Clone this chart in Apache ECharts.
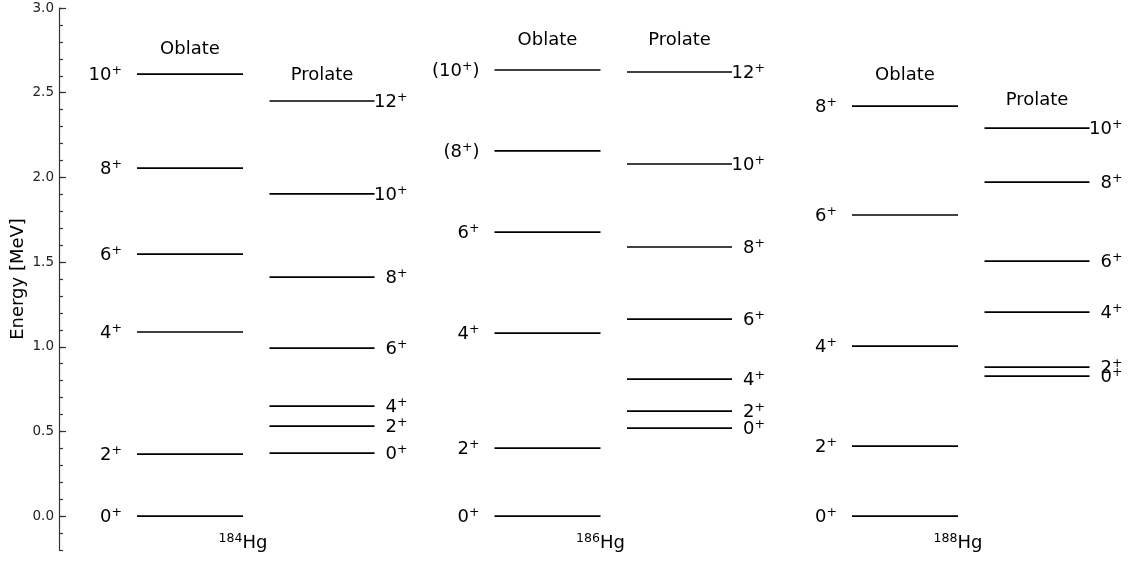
<!DOCTYPE html>
<html><head><meta charset="utf-8">
<script src="https://cdn.jsdelivr.net/npm/echarts@6/dist/echarts.min.js"></script>
<style>html,body{margin:0;padding:0;background:#fff}#c{width:1146px;height:561px}</style>
</head><body><div id="c"></div>
<script>
// ---- data ----
const isotopes = ['184', '186', '188'];
const oblateSpins184 = ['0+', '2+', '4+', '6+', '8+', '10+'];
const oblateE184 = [0, 0.366, 1.087, 1.547, 2.055, 2.610];
const prolateSpins184 = ['0+', '2+', '4+', '6+', '8+', '10+', '12+'];
const prolateE184 = [0.372, 0.531, 0.650, 0.992, 1.411, 1.902, 2.451];
const oblateSpins186 = ['0+', '2+', '4+', '6+', '(8+)', '(10+)'];
const oblateE186 = [0, 0.402, 1.081, 1.677, 2.156, 2.634];
const prolateSpins186 = ['0+', '2+', '4+', '6+', '8+', '10+', '12+'];
const prolateE186 = [0.520, 0.620, 0.809, 1.163, 1.589, 2.079, 2.622];
const oblateSpins188 = ['0+', '2+', '4+', '6+', '8+'];
const oblateE188 = [0, 0.413, 1.004, 1.778, 2.421];
const prolateSpins188 = ['0+', '2+', '4+', '6+', '8+', '10+'];
const prolateE188 = [0.827, 0.880, 1.205, 1.506, 1.972, 2.291];
const bandNames = ['Oblate', 'Prolate'];
const yTickValues = [0.0, 0.5, 1.0, 1.5, 2.0, 2.5, 3.0];

// ---- layout (not data) ----
const X_MAX = 1087;
const OBL_START = 78, ISO_STEP = 357.5, LINE_W = 106, PRO_OFFSET = 132.5, PRO_W = 105;
const headerE = [[2.755, 2.604], [2.807, 2.807], [2.604, 2.452]];
const isoLabelE = -0.148;
const BIG = 18, SMALL = 12.5;

const bands = [
  [[oblateSpins184, oblateE184], [prolateSpins184, prolateE184]],
  [[oblateSpins186, oblateE186], [prolateSpins186, prolateE186]],
  [[oblateSpins188, oblateE188], [prolateSpins188, prolateE188]]
];
const levelData = [];
bands.forEach((b, iso) => b.forEach(([spins, es], side) => {
  es.forEach((e, k) => levelData.push([iso, side, e, spins[k]]));
}));
const headerData = [];
isotopes.forEach((iso, i) => { headerData.push([i, 0, headerE[i][0]]); headerData.push([i, 1, headerE[i][1]]); });
const isoData = isotopes.map((iso, i) => [i, isoLabelE]);

function spinRich(s) {
  return s.replace('+', '{s|+}').replace(/^(\(?)(\d+)/, '$1{n|$2}').replace(/^\(/, '{n|(}').replace(/\)$/, '{n|)}');
}
const rich = {
  n: { fontSize: BIG, fontFamily: 'DejaVu Sans', color: '#000', lineHeight: 22, verticalAlign: 'bottom' },
  s: { fontSize: SMALL, fontFamily: 'DejaVu Sans', color: '#000', lineHeight: 22, verticalAlign: 'bottom', padding: [0, 0, 7, 0] }
};
function lineRange(iso, side) {
  const x0 = OBL_START + iso * ISO_STEP;
  return side === 0 ? [x0, x0 + LINE_W] : [x0 + PRO_OFFSET, x0 + PRO_OFFSET + PRO_W];
}

const chart = echarts.init(document.getElementById('c'), null, { renderer: 'canvas' });
chart.setOption({
  animation: false,
  backgroundColor: '#fff',
  grid: { left: 59, right: 0, top: 8, bottom: 11, containLabel: false, outerBoundsMode: 'none' },
  xAxis: { type: 'value', min: 0, max: X_MAX, show: false },
  yAxis: [
    { type: 'value', min: -0.2, max: 3.0, interval: 0.1, position: 'left',
      axisLine: { show: true, lineStyle: { color: '#333', width: 1.2 } },
      axisTick: { show: true, inside: true, length: 4, lineStyle: { color: '#333', width: 1.2 } },
      axisLabel: { show: false }, splitLine: { show: false } },
    { type: 'value', min: -0.2, max: 3.0, position: 'left', offset: 0,
      axisLine: { show: false },
      axisTick: { show: true, inside: true, length: 7, customValues: yTickValues, lineStyle: { color: '#333', width: 1.2 } },
      axisLabel: { show: true, customValues: yTickValues, margin: 5, fontSize: 13.5, fontFamily: 'DejaVu Sans', color: '#222',
        formatter: v => v.toFixed(1) },
      splitLine: { show: false },
      name: 'Energy [MeV]', nameLocation: 'middle', nameGap: 32, nameRotate: 90, nameMoveOverlap: false,
      nameTextStyle: { fontSize: BIG, fontFamily: 'DejaVu Sans', color: '#000' } }
  ],
  series: [
    { type: 'custom', xAxisIndex: 0, yAxisIndex: 0, data: levelData, clip: false,
      renderItem: (params, api) => {
        const iso = api.value(0), side = api.value(1), e = api.value(2);
        const spin = levelData[params.dataIndex][3];
        const [xa, xb] = lineRange(iso, side);
        const p0 = api.coord([xa, e]), p1 = api.coord([xb, e]);
        const tx = side === 0 ? p0[0] - 15 : p1[0] + 33;
        return { type: 'group', children: [
          { type: 'line', shape: { x1: p0[0], y1: p0[1], x2: p1[0], y2: p1[1] }, style: { stroke: '#000', lineWidth: 1.7 } },
          { type: 'text', x: tx, y: p0[1] - 1, style: { text: spinRich(spin), rich: rich, align: 'right', verticalAlign: 'middle' } }
        ] };
      } },
    { type: 'custom', xAxisIndex: 0, yAxisIndex: 0, data: headerData, clip: false,
      renderItem: (params, api) => {
        const iso = api.value(0), side = api.value(1), e = api.value(2);
        const [xa, xb] = lineRange(iso, side);
        const p = api.coord([(xa + xb) / 2, e]);
        return { type: 'text', x: p[0], y: p[1], style: { text: bandNames[side], fontSize: BIG, fontFamily: 'DejaVu Sans', fill: '#000', align: 'center', verticalAlign: 'middle' } };
      } },
    { type: 'custom', xAxisIndex: 0, yAxisIndex: 0, data: isoData, clip: false,
      renderItem: (params, api) => {
        const iso = api.value(0), e = api.value(1);
        const [xa, xb] = lineRange(iso, 0);
        const p = api.coord([xb, e]);
        return { type: 'text', x: p[0], y: p[1], style: {
          text: '{m|' + isotopes[iso] + '}{h|Hg}', align: 'center', verticalAlign: 'middle',
          rich: {
            m: { fontSize: SMALL, fontFamily: 'DejaVu Sans', color: '#000', lineHeight: 22, verticalAlign: 'bottom', padding: [0, 0, 7, 0] },
            h: { fontSize: BIG, fontFamily: 'DejaVu Sans', color: '#000', lineHeight: 22, verticalAlign: 'bottom' }
          } } };
      } }
  ]
});
</script>
</body></html>
